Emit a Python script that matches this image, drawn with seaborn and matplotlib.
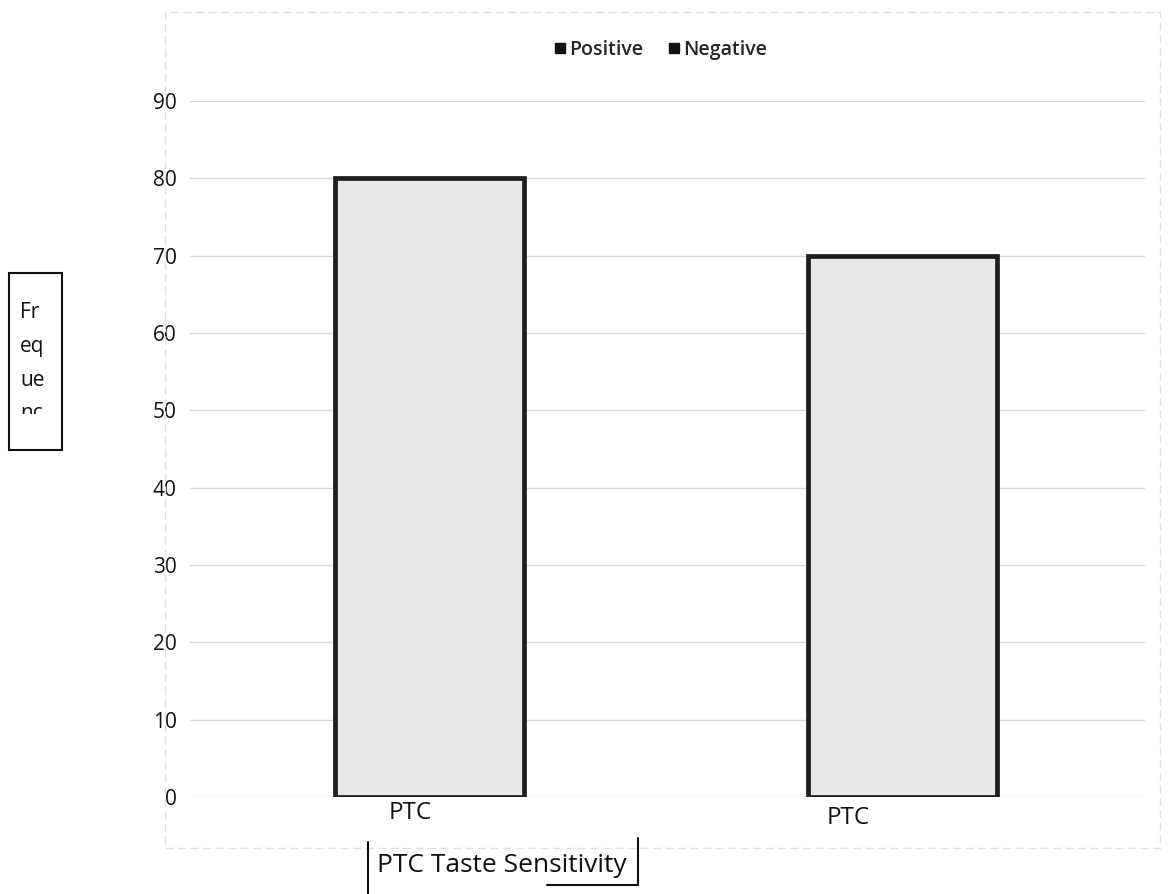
import matplotlib
matplotlib.use("Agg")
import matplotlib.pyplot as plt
import matplotlib.transforms as mtransforms
from matplotlib.lines import Line2D
from matplotlib.patches import Rectangle
import seaborn as sns
import pandas as pd

# Data
groups = ["Positive", "Negative"]
frequency = [80, 70]
tick_labels = ["PTC", "PTC"]
y_ticks = [0, 10, 20, 30, 40, 50, 60, 70, 80, 90]

df = pd.DataFrame({"Group": groups, "Frequency": frequency})

sns.set_theme(style="white")
plt.rcParams["font.family"] = ["Open Sans", "DejaVu Sans"]

W, H = 1173, 894
fig = plt.figure(figsize=(W / 100, H / 100), dpi=100)

# axes placed in pixel terms: x 190..1145, y (0 -> 797px, 90 -> 101px)
left, right = 190 / W, 1145 / W
bottom, top = (H - 797) / H, (H - 101) / H
ax = fig.add_axes([left, bottom, right - left, top - bottom])

sns.barplot(data=df, x="Group", y="Frequency", hue="Group",
            palette=["#e9e9e9", "#e9e9e9"], width=0.4,
            edgecolor="#1e1e1e", linewidth=3.4, legend=False, ax=ax,
            zorder=3)

ax.set_ylim(0, 90)
ax.set_xlim(-0.507, 1.512)
ax.set_yticks(y_ticks)
ax.set_yticklabels([str(v) for v in y_ticks], fontsize=15, color="#111111")
ax.tick_params(axis="y", length=0, pad=9.5)
ax.yaxis.grid(True, color="#d8d8d8", linewidth=1.0, zorder=0)
ax.set_axisbelow(True)
for s in ax.spines.values():
    s.set_visible(False)

ax.set_xlabel("")
ax.set_ylabel("")
ax.set_xticks([0, 1])
ax.set_xticklabels(tick_labels, fontsize=17.5, color="#111111")
ax.tick_params(axis="x", length=0, pad=1)
offsets = [(-0.20, -0.03), (-0.55, -0.08)]
for lab, (dx, dy) in zip(ax.get_xticklabels(), offsets):
    lab.set_transform(lab.get_transform() +
                      mtransforms.ScaledTranslation(dx, dy, fig.dpi_scale_trans))

# legend with solid black square keys
handles = [Line2D([0], [0], marker="s", linestyle="none", markersize=7.5,
                  markerfacecolor="#111111", markeredgecolor="#111111")
           for _ in groups]
fig.legend(handles, groups, loc="center", bbox_to_anchor=(660 / W, 1 - 50 / H),
           ncol=2, frameon=False, handletextpad=0.15,
           columnspacing=1.2, handlelength=0.7,
           prop={"size": 14, "weight": "semibold"})

# faint chart area border
fig.patches.append(Rectangle((165 / W, 1 - 848 / H), (1160 - 165) / W,
                             (848 - 12) / H, transform=fig.transFigure,
                             fill=False, edgecolor="#e0e0e0", linewidth=1.0,
                             linestyle=(0, (6, 3))))

# boxed y-axis title, clipped inside its frame
box = Rectangle((9 / W, 1 - 450 / H), 53 / W, 177 / H, transform=fig.transFigure,
                fill=False, edgecolor="#111111", linewidth=1.5)
fig.patches.append(box)
ylab = fig.text(20 / W, 1 - 302 / H, "Fr\neq\nue\nnc\ny", fontsize=15,
                va="top", ha="left", linespacing=1.8, color="#111111")
ylab.set_clip_path(Rectangle((9 / W, 1 - 414 / H), 53 / W, 141 / H,
                             transform=fig.transFigure))

# x-axis title with its partial frame
fig.text(377 / W, 1 - 866 / H, "PTC Taste Sensitivity", fontsize=19,
         va="center", ha="left", color="#111111")
fig.add_artist(Line2D([368 / W, 368 / W], [1 - 842 / H, 0], color="#111111",
                      linewidth=1.5, transform=fig.transFigure))
fig.add_artist(Line2D([638 / W, 638 / W], [1 - 838 / H, 1 - 885 / H],
                      color="#111111", linewidth=1.5, transform=fig.transFigure))
fig.add_artist(Line2D([547 / W, 638 / W], [1 - 885 / H, 1 - 885 / H],
                      color="#111111", linewidth=1.5, transform=fig.transFigure))

fig.savefig("out.png", dpi=100, facecolor="white")
